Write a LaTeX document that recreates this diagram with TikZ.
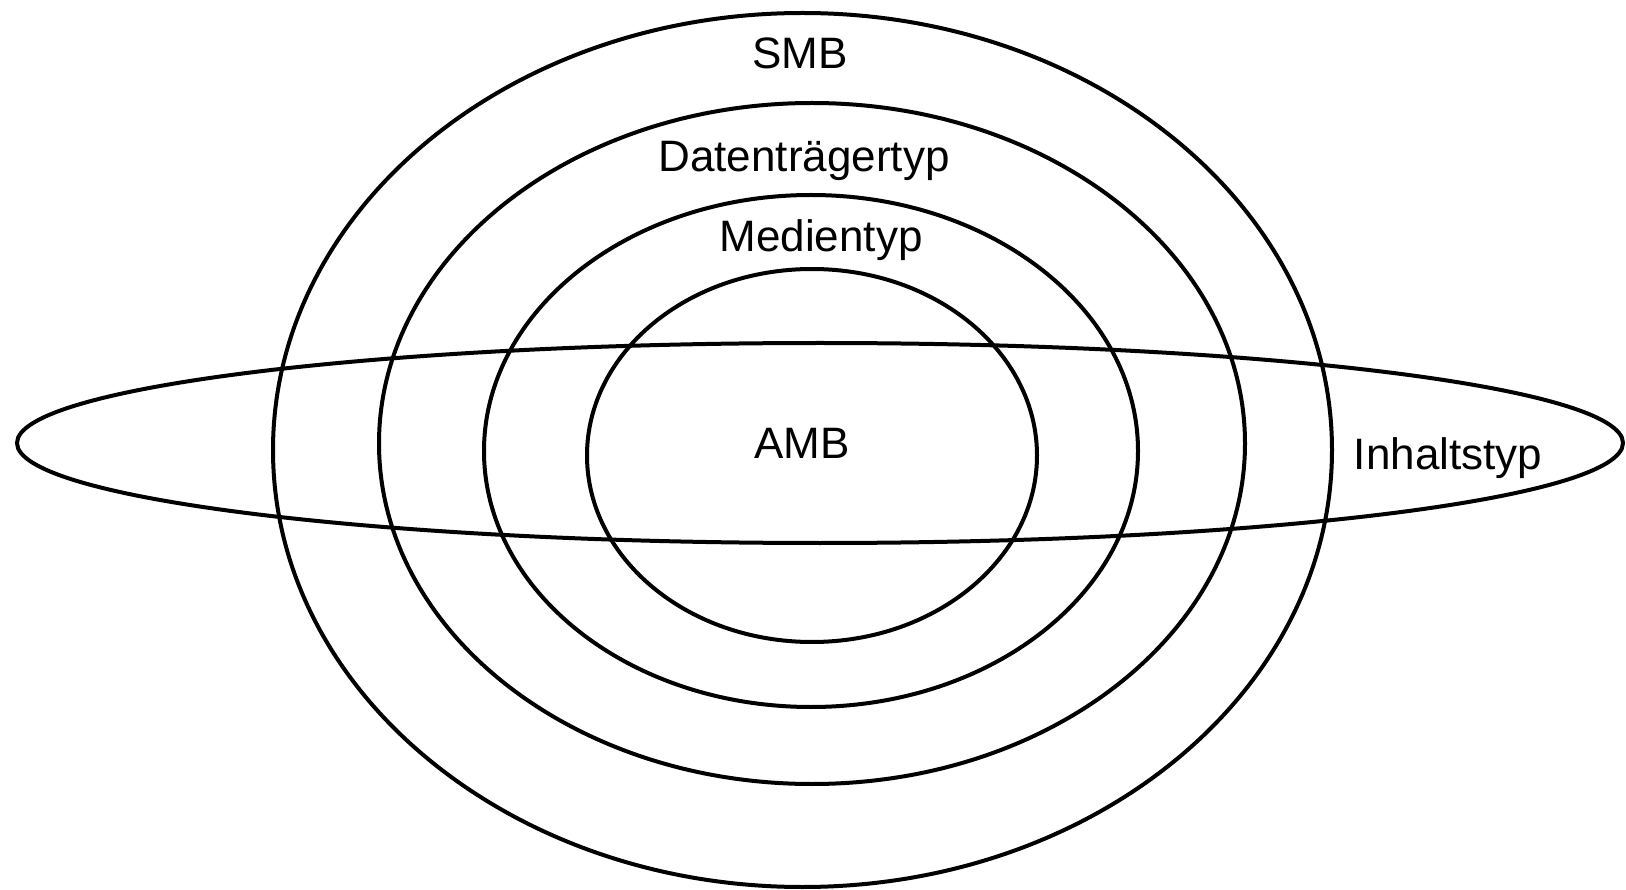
\documentclass[tikz,border=0pt]{standalone}
\usepackage{fontspec}
\setmainfont{Liberation Sans}
\usetikzlibrary{shapes.geometric}
\begin{document}
\begin{tikzpicture}[x=1pt,y=-1pt,
  ring/.style={draw=black, line width=4pt, ellipse, inner sep=0pt, outer sep=0pt},
  lbl/.style={anchor=base, inner sep=0pt, font=\fontsize{44}{52}\selectfont}]
\useasboundingbox (0,0) rectangle (1626,890);
\node[ring, minimum width=1059pt, minimum height=874pt] (smb) at (802.5,450) {};
\node[ring, minimum width=866pt, minimum height=681pt] (dtt) at (812,443.5) {};
\node[ring, minimum width=654pt, minimum height=512pt] (mt) at (811,451) {};
\node[ring, minimum width=450pt, minimum height=373pt] (amb) at (812,455.5) {};
\node[ring, minimum width=1606pt, minimum height=200pt] (it) at (820,443) {};
\node[lbl] (tsmb) at (800,69) {SMB};
\node[lbl] (tdtt) at (804,172) {Datenträgertyp};
\node[lbl] (tmt) at (821,252) {Medientyp};
\node[lbl] (tamb) at (802,459) {AMB};
\node[lbl] (tit) at (1448,470) {Inhaltstyp};
\end{tikzpicture}
\end{document}
